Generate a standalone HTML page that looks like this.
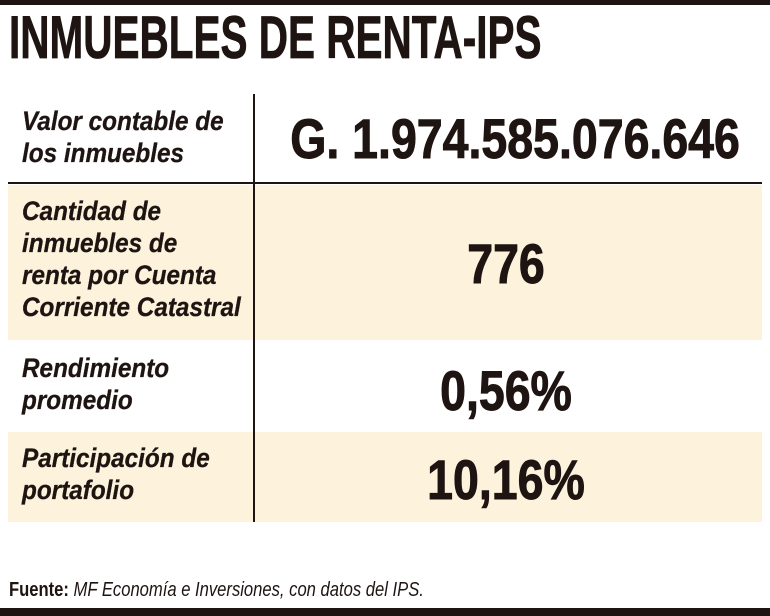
<!DOCTYPE html>
<html><head><meta charset="utf-8"><style>
body{margin:0;width:770px;height:616px;background:#fff;position:relative;overflow:hidden;font-family:"Liberation Sans",sans-serif;color:#1e1412}
.a{position:absolute}
.t{font-weight:bold;transform-origin:0 0;white-space:nowrap;-webkit-text-stroke:0.8px #1e1412}
.lab{font-weight:bold;font-style:italic;font-size:27px;line-height:32px;transform:scaleX(.9);transform-origin:0 0;white-space:nowrap;-webkit-text-stroke:0.3px #1e1412}
.val{font-weight:bold;font-size:56px;transform:scaleX(.83);white-space:nowrap;text-align:center;width:520px;left:246px;-webkit-text-stroke:1px #1e1412}
</style></head><body>
<div class="a" style="left:0;top:0;width:770px;height:5px;background:#1e1412"></div>
<div class="a t" style="left:9px;top:3px;font-size:60px;transform:scaleX(.675)">INMUEBLES DE RENTA-IPS</div>
<div class="a" style="left:8px;top:185px;width:754px;height:155px;background:#fdf3dc"></div>
<div class="a" style="left:8px;top:432px;width:754px;height:90px;background:#fdf3dc"></div>
<div class="a" style="left:8px;top:182px;width:754px;height:2px;background:#1e1412"></div>
<div class="a" style="left:253px;top:94px;width:2px;height:428px;background:#1e1412"></div>
<div class="a lab" style="left:22px;top:105px">Valor contable de<br>los inmuebles</div>
<div class="a lab" style="left:22px;top:195px">Cantidad de<br>inmuebles de<br>renta por Cuenta<br>Corriente Catastral</div>
<div class="a lab" style="left:22px;top:352px">Rendimiento<br>promedio</div>
<div class="a lab" style="left:22px;top:442px">Participación de<br>portafolio</div>
<div class="a val" style="top:106px">G. 1.974.585.076.646</div>
<div class="a val" style="top:231px">776</div>
<div class="a val" style="top:358px">0,56%</div>
<div class="a val" style="top:447px">10,16%</div>
<div class="a" style="left:9px;top:579px;font-size:20px;white-space:nowrap;transform:scaleX(.83);transform-origin:0 0"><b>Fuente:</b> <i>MF Economía e Inversiones, con datos del IPS.</i></div>
<div class="a" style="left:0;top:608px;width:770px;height:8px;background:#1e1412"></div>
</body></html>
